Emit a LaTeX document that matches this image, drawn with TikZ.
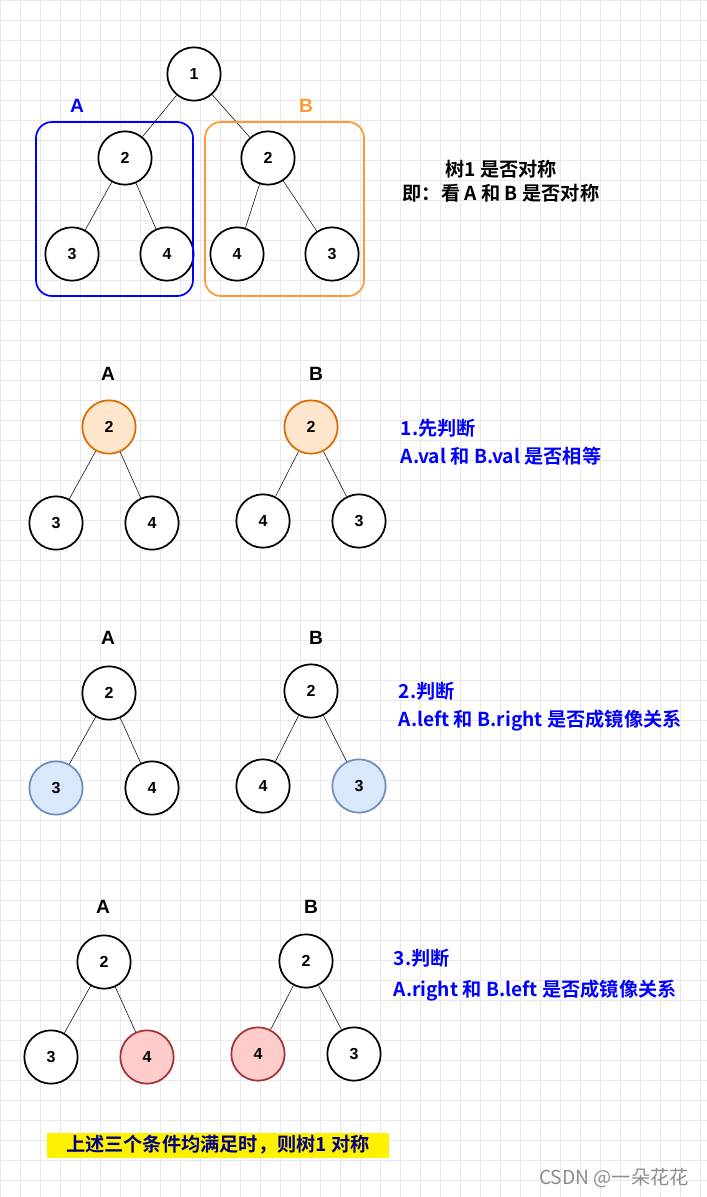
\documentclass[tikz,border=0pt]{standalone}
\usepackage{fontspec}
\setmainfont{Liberation Sans}
\newfontfamily\cjk{Noto Sans CJK SC}[BoldFont={* Bold}]
\definecolor{txtblue}{HTML}{0000FF}
\definecolor{boxorange}{HTML}{FF9933}
\definecolor{fillblue}{HTML}{DAE8FC}
\definecolor{lineblue}{HTML}{6C8EBF}
\tikzset{
  tnode/.style={draw, circle, line width=1.3pt, minimum size=40pt, inner sep=0pt, fill=white, font=\bfseries\large},
  orangenode/.style={tnode, fill=orange!20, draw=orange!85!black},
  bluenode/.style={tnode, fill=fillblue, draw=lineblue},
  rednode/.style={tnode, fill=red!20, draw=red!55!black!80},
  title/.style={font=\bfseries\Large},
  note/.style={anchor=west, text=txtblue, font=\cjk\bfseries\Large}
}
\begin{document}
\begin{tikzpicture}[x=0.75pt, y=-0.75pt]
        \useasboundingbox (0,0) rectangle (707,1197);
        \foreach \i in {0,20,...,700} \draw[black!9] (\i,0) -- (\i,1197);
        \foreach \j in {0,20,...,1180} \draw[black!9] (0,\j) -- (707,\j);

        % tree 1
        \node[tnode] (r1) at (194,74) {1};
        \node[tnode] (a2) at (125,158) {2};
        \node[tnode] (a3) at (72,254) {3};
        \node[tnode] (a4) at (167,254) {4};
        \node[tnode] (b2) at (268,158) {2};
        \node[tnode] (b4) at (237,254) {4};
        \node[tnode] (b3) at (332,254) {3};
        \draw (r1) -- (a2); \draw (r1) -- (b2);
        \draw (a2) -- (a3); \draw (a2) -- (a4);
        \draw (b2) -- (b4); \draw (b2) -- (b3);
        \draw[blue, line width=1.3pt, rounded corners=12] (36,122) rectangle (193,296);
        \draw[boxorange, line width=1.3pt, rounded corners=12] (205,122) rectangle (364,296);
        \node[title, text=blue] (la) at (77,106) {A};
        \node[title, text=boxorange] (lb) at (306,106) {B};
        \node[font=\cjk\bfseries\Large, align=center, inner sep=0pt] (q) at (501,181) {树1 是否对称\\即：看 A 和 B 是否对称};

        % step 1
        \node[title] (sa1) at (108,374) {A};
        \node[title] (sb1) at (316,374) {B};
        \node[orangenode] (sa12) at (109,427) {2};
        \node[tnode] (sa13) at (56,523) {3};
        \node[tnode] (sa14) at (152,523) {4};
        \node[orangenode] (sb12) at (311,427) {2};
        \node[tnode] (sb14) at (263,521) {4};
        \node[tnode] (sb13) at (359,521) {3};
        \draw (sa12) -- (sa13); \draw (sa12) -- (sa14);
        \draw (sb12) -- (sb14); \draw (sb12) -- (sb13);
        \node[note] (n11) at (396,428) {1.先判断};
        \node[note] (n12) at (396,456) {A.val 和 B.val 是否相等};

        % step 2
        \node[title] (sa2) at (108,638) {A};
        \node[title] (sb2) at (316,638) {B};
        \node[tnode] (sa22) at (109,693) {2};
        \node[bluenode] (sa23) at (56,788) {3};
        \node[tnode] (sa24) at (152,788) {4};
        \node[tnode] (sb22) at (311,691) {2};
        \node[tnode] (sb24) at (263,786) {4};
        \node[bluenode] (sb23) at (359,786) {3};
        \draw (sa22) -- (sa23); \draw (sa22) -- (sa24);
        \draw (sb22) -- (sb24); \draw (sb22) -- (sb23);
        \node[note] (n21) at (394,691) {2.判断};
        \node[note] (n22) at (394,721) {A.left 和 B.right 是否成镜像关系};

        % step 3
        \node[title] (sa3) at (103,907) {A};
        \node[title] (sb3) at (311,907) {B};
        \node[tnode] (sa32) at (104,962) {2};
        \node[tnode] (sa33) at (51,1057) {3};
        \node[rednode] (sa34) at (147,1057) {4};
        \node[tnode] (sb32) at (306,961) {2};
        \node[rednode] (sb34) at (258,1054) {4};
        \node[tnode] (sb33) at (354,1054) {3};
        \draw (sa32) -- (sa33); \draw (sa32) -- (sa34);
        \draw (sb32) -- (sb34); \draw (sb32) -- (sb33);
        \node[note] (n31) at (389,958) {3.判断};
        \node[note] (n32) at (389,991) {A.right 和 B.left 是否成镜像关系};

        \fill[yellow] (47,1133) rectangle (389,1158);
        \node[font=\cjk\bfseries\Large, text=blue!50!black] (sum) at (218,1145) {上述三个条件均满足时，则树1 对称};
        \node[font=\cjk\Large, text=black!45] (wm) at (614,1178) {CSDN @一朵花花};
\end{tikzpicture}
\end{document}
